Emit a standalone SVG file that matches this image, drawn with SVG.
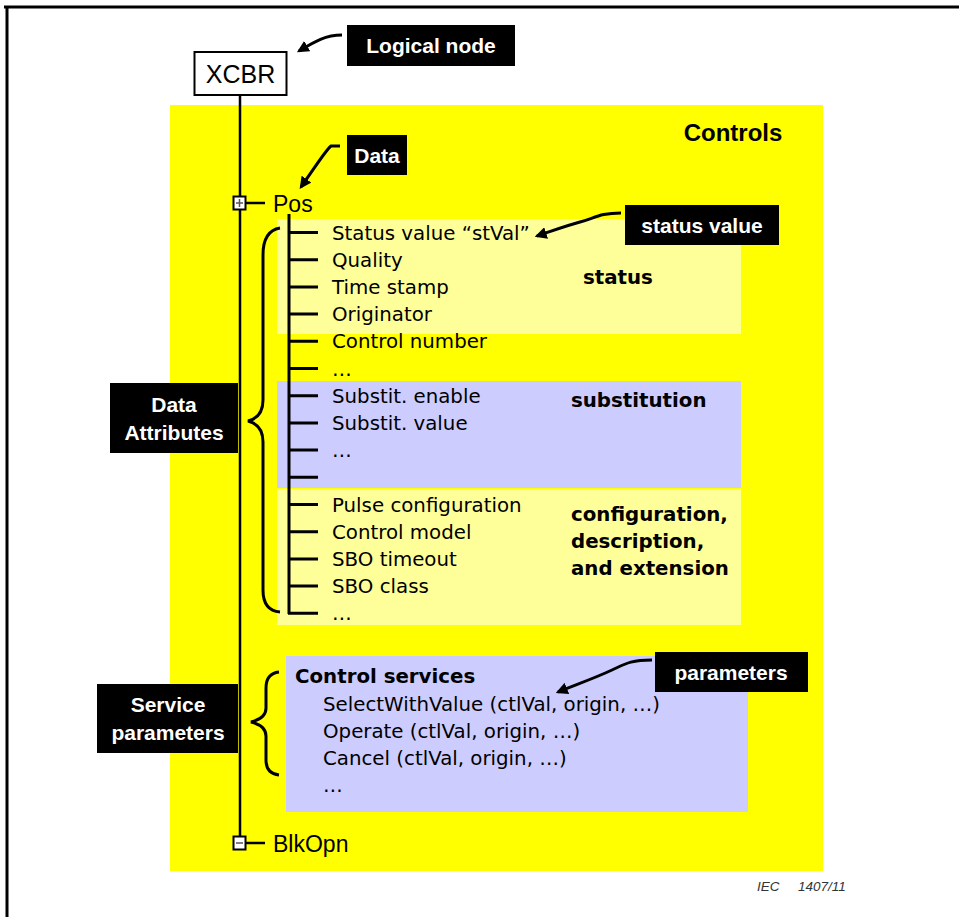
<svg xmlns="http://www.w3.org/2000/svg" width="959" height="917" viewBox="0 0 959 917">
<style>
.lbl{fill:#000}
.lt{fill:#fff;font-family:"Liberation Sans",Arial,sans-serif;font-weight:bold;font-size:21px;text-anchor:middle}
.it{font-family:"DejaVu Sans",Verdana,sans-serif;font-size:19.8px;fill:#000}
.bd{font-family:"DejaVu Sans",Verdana,sans-serif;font-size:19.8px;font-weight:bold;fill:#000}
.ar{font-family:"Liberation Sans",Arial,sans-serif;fill:#000}
.ln{stroke:#000;stroke-width:3;fill:none}
.thin{stroke:#000;stroke-width:2.5;fill:none}
.arrow{stroke:#000;stroke-width:3;fill:none;marker-end:url(#ah)}
</style>
<defs>
<marker id="ah" viewBox="0 0 10 10" refX="8" refY="5" markerWidth="4" markerHeight="4" orient="auto" markerUnits="strokeWidth">
<path d="M0,0 L10,5 L0,10 z" fill="#000"/>
</marker>
</defs>
<rect width="959" height="917" fill="#fff"/>
<!-- frame -->
<path d="M4,7 H959 M7,7 V917" stroke="#000" stroke-width="3" fill="none"/>
<!-- backgrounds -->
<rect id="controls-bg" x="170" y="105" width="653" height="766" fill="#ffff00"/>
<rect x="277" y="219" width="464" height="115" fill="#ffff99"/>
<rect x="277" y="381" width="464" height="107" fill="#ccccff"/>
<rect x="277" y="489" width="464" height="136" fill="#ffff99"/>
<rect x="286" y="656" width="462" height="156" fill="#ccccff"/>
<text class="ar" x="733" y="141" font-size="24" font-weight="bold" text-anchor="middle">Controls</text>

<g id="connectors">
<line class="thin" x1="240" y1="96" x2="240" y2="836"/>
<line class="thin" x1="246" y1="203" x2="265" y2="203"/>
<line class="thin" x1="246" y1="843" x2="265" y2="843"/>
<path class="ln" d="M289,214 V614 M288,232.5 H318 M288,259.7 H318 M288,286.9 H318 M288,314.1 H318 M288,341.3 H318 M288,368.5 H318 M288,395.7 H318 M288,422.9 H318 M288,450.1 H318 M288,477.3 H318 M288,504.5 H318 M288,531.7 H318 M288,558.9 H318 M288,586.1 H318 M288,613.3 H318"/>
<path class="ln" d="M280,228 C268,230 263,240 263,255 L263,400 C263,414 256,419 248,421 C256,423 263,428 263,442 L263,590 C263,603 268,611 280,612"/>
<path class="ln" d="M279,672 C270,673 266,679 266,688 L266,708 C266,716 259,720 251,722 C259,724 266,728 266,736 L266,760 C266,769 270,774 279,775"/>
<path class="arrow" d="M342,35 C325,35 314,42 299,51"/>
<path class="arrow" d="M340,146 L331,146 C326,150 320,160 301,187"/>
<path class="arrow" d="M621,213 C600,213 595,218 580,222 C565,226 552,231 537,236"/>
<path class="arrow" d="M652,660 C630,660 625,664 612,670 C595,678 575,685 558,692"/>
</g>

<g id="xcbr">
<rect x="194.5" y="52" width="92" height="43" fill="#fff" stroke="#000" stroke-width="2"/>
<text class="ar" x="240.5" y="83" font-size="25" text-anchor="middle">XCBR</text>
</g>
<g id="logical-node-label">
<rect class="lbl" x="347" y="25" width="168" height="41"/>
<text class="lt" x="431" y="53">Logical node</text>
</g>
<g id="data-label">
<rect class="lbl" x="347" y="135" width="60" height="40"/>
<text class="lt" x="377" y="163">Data</text>
</g>
<g id="pos">
<rect x="233.5" y="196.5" width="12" height="13" fill="#fff" stroke="#000" stroke-width="2"/>
<path d="M236,203 H243 M239.5,199 V207" stroke="#555" stroke-width="1.5"/>
<text class="ar" x="273" y="212" font-size="23">Pos</text>
</g>
<g id="status-value-label">
<rect class="lbl" x="625" y="205" width="154" height="40"/>
<text class="lt" x="702" y="233">status value</text>
</g>
<g id="attributes">
<text class="it" x="332" y="239.5">Status value “stVal”</text>
<text class="it" x="332" y="266.7">Quality</text>
<text class="it" x="332" y="293.9">Time stamp</text>
<text class="it" x="332" y="321.1">Originator</text>
<text class="it" x="332" y="348.3">Control number</text>
<text class="it" x="332" y="375.5">…</text>
<text class="it" x="332" y="402.7">Substit. enable</text>
<text class="it" x="332" y="429.9">Substit. value</text>
<text class="it" x="332" y="457.1">…</text>
<text class="it" x="332" y="511.5">Pulse configuration</text>
<text class="it" x="332" y="538.7">Control model</text>
<text class="it" x="332" y="565.9">SBO timeout</text>
<text class="it" x="332" y="593.1">SBO class</text>
<text class="it" x="332" y="620.3">…</text>
<text class="bd" x="583" y="284">status</text>
<text class="bd" x="571" y="407">substitution</text>
<text class="bd" x="571" y="521">configuration,</text>
<text class="bd" x="571" y="548">description,</text>
<text class="bd" x="571" y="575">and extension</text>
</g>
<g id="data-attributes-label">
<rect class="lbl" x="110" y="383" width="128" height="70"/>
<text class="lt" x="174" y="412">Data</text>
<text class="lt" x="174" y="440">Attributes</text>
</g>
<g id="control-services">
<text class="bd" x="295" y="683">Control services</text>
<text class="it" x="323" y="711">SelectWithValue (ctlVal, origin, …)</text>
<text class="it" x="323" y="738">Operate (ctlVal, origin, …)</text>
<text class="it" x="323" y="765">Cancel (ctlVal, origin, …)</text>
<text class="it" x="323" y="792">…</text>
</g>
<g id="parameters-label">
<rect class="lbl" x="655" y="652" width="153" height="40"/>
<text class="lt" x="731" y="680">parameters</text>
</g>
<g id="service-parameters-label">
<rect class="lbl" x="97" y="684" width="141" height="69"/>
<text class="lt" x="168" y="712">Service</text>
<text class="lt" x="168" y="740">parameters</text>
</g>
<g id="blkopn">
<rect x="233.5" y="836.5" width="12" height="13" fill="#fff" stroke="#000" stroke-width="2"/>
<path d="M236,843 H243" stroke="#555" stroke-width="1.5"/>
<text class="ar" x="273" y="852" font-size="23">BlkOpn</text>
</g>
<g id="iec-ref" font-family="'Liberation Sans',Arial,sans-serif" font-size="13.5" font-style="italic" fill="#333">
<text x="757" y="891">IEC</text>
<text x="798" y="891">1407/11</text>
</g>
</svg>
